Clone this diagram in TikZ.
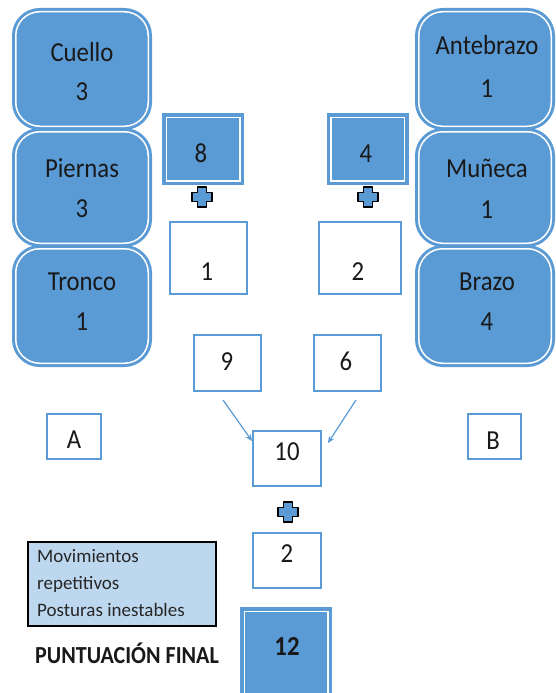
\documentclass[tikz,border=0pt]{standalone}
\usepackage{fontspec}
\setmainfont{Carlito}[FakeStretch=0.9]
\newfontfamily\notef{Carlito}
\usetikzlibrary{arrows.meta}
\definecolor{boxblue}{RGB}{91,155,213}
\definecolor{lightbox}{RGB}{189,215,238}
\definecolor{txtc}{RGB}{25,25,25}
\newcommand\plusmark[1]{\draw[plusmk] (#1) ++(-4.5,-10) -- ++(9,0) -- ++(0,5.5) -- ++(5.5,0) -- ++(0,9) -- ++(-5.5,0) -- ++(0,5.5) -- ++(-9,0) -- ++(0,-5.5) -- ++(-5.5,0) -- ++(0,-9) -- ++(5.5,0) -- cycle;}
\begin{document}
\begin{tikzpicture}[x=1pt,y=-1pt,
  rbox/.style={rectangle, rounded corners=24pt, fill=boxblue, draw=boxblue, line width=3pt, double=white, double distance=1.5pt, inner sep=0pt},
  fbox/.style={rectangle, fill=boxblue, draw=boxblue, line width=3.5pt, double=white, double distance=1.5pt, inner sep=0pt},
  wbox/.style={rectangle, draw=boxblue, line width=1.8pt, fill=white, inner sep=0pt},
  lbl/.style={anchor=base, font=\fontsize{27.5}{30}\selectfont, text=txtc, inner sep=0pt},
  note/.style={anchor=base west, font=\notef\fontsize{19}{22}\selectfont, text=black!85, inner sep=0pt},
  arr/.style={draw=boxblue, line width=1.2pt, -{Stealth[length=7pt,width=6pt]}},
  plusmk/.style={fill=boxblue, draw=black, line width=1.9pt, line join=round}]
\fill[white] (0,0) rectangle (556,693);
\useasboundingbox (0,0) rectangle (556,693);

% left column
\node[rbox, minimum width=132.5pt, minimum height=114.5pt] (cuello) at (82,69) {};
\node[rbox, minimum width=132.5pt, minimum height=111.5pt] (piernas) at (82,187.5) {};
\node[rbox, minimum width=132.5pt, minimum height=114.5pt] (tronco) at (82,306) {};
\node[lbl] (tcuello) at (82,62) {Cuello};
\node[lbl] (ncuello) at (82,100) {3};
\node[lbl] (tpiernas) at (82,177) {Piernas};
\node[lbl] (npiernas) at (82,217) {3};
\node[lbl] (ttronco) at (82,290) {Tronco};
\node[lbl] (ntronco) at (82,330) {1};

% right column
\node[rbox, minimum width=132.5pt, minimum height=114.5pt] (antebrazo) at (485,69) {};
\node[rbox, minimum width=132.5pt, minimum height=111.5pt] (muneca) at (485,187.5) {};
\node[rbox, minimum width=132.5pt, minimum height=114.5pt] (brazo) at (485,306) {};
\node[lbl] (tante) at (487,55) {Antebrazo};
\node[lbl] (nante) at (487,97) {1};
\node[lbl] (tmun) at (487,177) {Muñeca};
\node[lbl] (nmun) at (487,218) {1};
\node[lbl] (tbrazo) at (487,290) {Brazo};
\node[lbl] (nbrazo) at (487,330) {4};

% filled small boxes
\node[fbox, minimum width=73.5pt, minimum height=63.5pt] (b8) at (203,149) {};
\node[fbox, minimum width=73.5pt, minimum height=63.5pt] (b4) at (367.5,149) {};
\node[lbl] (t8) at (201,162) {8};
\node[lbl] (t4) at (366,162) {4};

\coordinate (pl1) at (202,197);
\coordinate (pl2) at (368,197);
\plusmark{pl1}
\plusmark{pl2}

% white boxes
\node[wbox, minimum width=77pt, minimum height=72pt] (b1) at (208.5,258) {};
\node[wbox, minimum width=82pt, minimum height=72pt] (b2) at (360,258) {};
\node[lbl] (t1) at (207,280) {1};
\node[lbl] (t2) at (358,280) {2};

\node[wbox, minimum width=67pt, minimum height=56pt] (b9) at (227.5,363) {};
\node[wbox, minimum width=67pt, minimum height=56pt] (b6) at (347.5,363) {};
\node[lbl] (t9) at (227,370) {9};
\node[lbl] (t6) at (346,370) {6};

\node[wbox, minimum width=54pt, minimum height=45pt] (bA) at (74,436.5) {};
\node[wbox, minimum width=53pt, minimum height=45pt] (bB) at (494.5,436.5) {};
\node[lbl] (tA) at (74,448) {A};
\node[lbl] (tB) at (493,449) {B};

\node[wbox, minimum width=68pt, minimum height=55pt] (b10) at (287,458.5) {};
\node[lbl] (t10) at (287,460) {10};

\coordinate (s9) at (223,400);
\coordinate (s6) at (356,400);
\draw[arr] (s9) -- ([yshift=-11pt]b10.north west);
\draw[arr] (s6) -- ([xshift=6pt,yshift=-13pt]b10.north east);

\coordinate (pl3) at (288,512);
\plusmark{pl3}

\node[wbox, minimum width=68pt, minimum height=55pt] (b2b) at (287,560.5) {};
\node[lbl] (t2b) at (287,562) {2};

% note box
\node[rectangle, draw=black, line width=2pt, fill=lightbox, minimum width=188pt, minimum height=84pt, inner sep=0pt] (notebox) at (122,584) {};
\node[note] (n1) at (37,562) {Movimientos};
\node[note] (n2) at (37,589) {repetitivos};
\node[note] (n3) at (37,616) {Posturas inestables};

\node[anchor=base west, font=\bfseries\fontsize{24.5}{28}\selectfont, text=txtc, inner sep=0pt] (final) at (35,663) {PUNTUACIÓN FINAL};

\node[fbox, minimum width=83.5pt, minimum height=84.5pt] (b12) at (286,653.5) {};
\node[lbl, font=\bfseries\fontsize{27.5}{30}\selectfont] (t12) at (287,655) {12};
\end{tikzpicture}
\end{document}
